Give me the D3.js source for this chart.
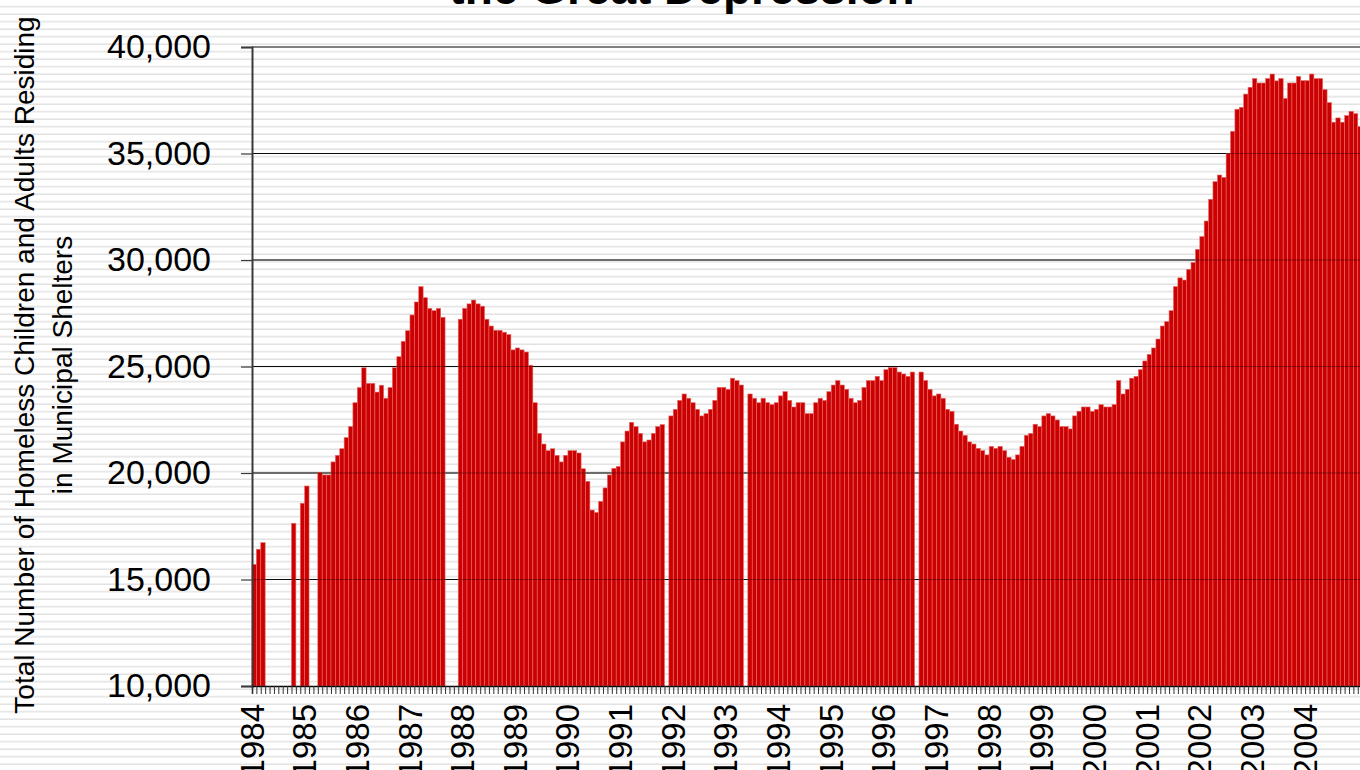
<!DOCTYPE html>
<html><head><meta charset="utf-8">
<script src="https://cdn.jsdelivr.net/npm/d3@7"></script>
<style>
html,body{margin:0;padding:0;background:#fff;overflow:hidden;}
svg{display:block;font-family:"Liberation Sans",Arial,sans-serif;}
</style>
</head><body>
<svg id="chart" width="1360" height="770"></svg>
<script>
// ---------------- data ----------------
const chartTitle = "the Great Depression";
const yTitleLines = ["Total Number of Homeless Children and Adults Residing", "in Municipal Shelters"];
const startYear = 1984;
const yearLabels = ["1984","1985","1986","1987","1988","1989","1990","1991","1992","1993","1994",
  "1995","1996","1997","1998","1999","2000","2001","2002","2003","2004"];
const yTicks = [10000, 15000, 20000, 25000, 30000, 35000, 40000];
// monthly totals starting January 1984 (null = month not reported)
const shelterCounts = [
  15710,16420,16730,null,null,null,null,null,null,17640,null,18580, // 1984
  19390,null,null,20030,19910,19910,20520,20830,21140,21660,22180,23300, // 1985
  24010,24940,24210,24210,23800,24120,23510,24010,24940,25460,26180,26680, // 1986
  27420,28030,28750,28230,27730,27620,27730,27310,null,null,null,27220, // 1987
  27730,27940,28120,27940,27830,27220,26900,26700,26700,26610,26500,25780, // 1988
  25870,25780,25680,25060,23300,21860,21360,21050,21140,20830,20520,20830, // 1989
  21050,21050,20940,20200,19610,18260,18150,18670,19300,19910,20220,20310, // 1990
  21460,21970,22380,22180,21860,21460,21550,21860,22180,22270,null,22680, // 1991
  22990,23410,23710,23510,23300,22990,22680,22790,22990,23410,24020,24020, // 1992
  23930,24450,24340,24130,null,23710,23510,23300,23510,23300,23210,23300, // 1993
  23620,23820,23410,23100,23300,23300,22790,22790,23300,23510,23410,23820, // 1994
  24130,24340,24130,23930,23510,23300,23410,24020,24340,24340,24540,24340, // 1995
  24850,24950,24950,24740,24650,24540,24740,null,24740,24340,23930,23620, // 1996
  23710,23510,22990,22900,22290,21970,21770,21460,21360,21160,21050,20850, // 1997
  21250,21160,21250,21050,20740,20640,20850,21250,21770,21860,22290,22180, // 1998
  22680,22790,22680,22490,22180,22180,22070,22680,22900,23100,23100,22900, // 1999
  22990,23210,23100,23100,23210,24340,23710,23930,24450,24540,24850,25260, // 2000
  25570,25870,26290,26900,27110,27620,28750,29160,29060,29560,29880,30500, // 2001
  31100,31830,32850,33680,33990,33880,35010,36040,37080,37170,37790,38110, // 2002
  38520,38310,38310,38520,38730,38410,38520,37590,38310,38310,38620,38420, // 2003
  38420,38730,38520,38520,38000,37390,36470,36670,36470,36780,36980,36870, // 2004
  36260                                                                     // 2005
];
const monthCount = 256;

// ---------------- layout ----------------
const W = 1360, H = 770;
const plotLeft = 252, plotTop = 47, plotBottom = 686;
const monthWidth = 4.388;

const svg = d3.select("#chart");
const defs = svg.append("defs");
const pat = defs.append("pattern").attr("id", "stripes")
  .attr("patternUnits", "userSpaceOnUse").attr("width", 10).attr("height", 7.5);
pat.append("rect").attr("width", 10).attr("height", 7.5).attr("fill", "#ffffff");
pat.append("rect").attr("y", 6).attr("width", 10).attr("height", 2.4).attr("fill", "#e2e2e2");
svg.append("rect").attr("width", W).attr("height", H).attr("fill", "url(#stripes)");

const idx = d3.range(monthCount);
const xBand = d3.scaleBand().domain(idx).range([plotLeft, plotLeft + monthCount * monthWidth]).padding(0);
const xLin = d3.scaleLinear().domain([0, monthCount]).range([plotLeft, plotLeft + monthCount * monthWidth]);
const y = d3.scaleLinear().domain([10000, 40000]).range([plotBottom, plotTop]);

// gridlines (behind bars)
svg.append("g").selectAll("line").data(yTicks.filter(d => d > 10000 && d < 40000)).join("line")
  .attr("x1", plotLeft).attr("x2", W).attr("y1", d => y(d)).attr("y2", d => y(d))
  .attr("stroke", "#111").attr("stroke-width", 1);

// bars
const barData = shelterCounts.map((v, i) => ({i, v})).filter(d => d.v != null);
svg.append("g").selectAll("rect").data(barData).join("rect")
  .attr("x", d => xBand(d.i))
  .attr("width", xBand.bandwidth())
  .attr("y", d => y(d.v))
  .attr("height", d => y(10000) - y(d.v))
  .attr("fill", "#cc0000")
  .attr("stroke", "#e66a6a")
  .attr("stroke-width", 0.6);

// gridlines faintly over bars
svg.append("g").selectAll("line").data(yTicks.filter(d => d > 10000 && d < 40000)).join("line")
  .attr("x1", plotLeft).attr("x2", W).attr("y1", d => y(d)).attr("y2", d => y(d))
  .attr("stroke", "#000").attr("stroke-opacity", 0.35).attr("stroke-width", 1);

// top border line
svg.append("line").attr("x1", plotLeft).attr("x2", W).attr("y1", y(40000)).attr("y2", y(40000))
  .attr("stroke", "#808080").attr("stroke-width", 2.2);

// y axis
const yAxis = svg.append("g").attr("transform", `translate(${plotLeft},0)`)
  .call(d3.axisLeft(y).tickValues(yTicks).tickSize(11).tickPadding(30).tickFormat(d3.format(",")));
yAxis.select(".domain").attr("stroke", "#3a3a3a").attr("stroke-width", 2);
yAxis.selectAll(".tick line").attr("stroke", "#3a3a3a").attr("stroke-width", 1.2);
yAxis.selectAll(".tick text").attr("font-size", 34).attr("fill", "#000")
  .attr("font-family", "'Liberation Sans', Arial, sans-serif");

// x axis (month ticks)
const xAxis = svg.append("g").attr("transform", `translate(0,${plotBottom})`)
  .call(d3.axisBottom(xLin).tickValues(d3.range(0, monthCount + 1)).tickSize(8).tickFormat(""));
xAxis.select(".domain").attr("stroke", "#000").attr("stroke-width", 1.5);
xAxis.selectAll(".tick line").attr("stroke", "#333").attr("stroke-width", 1);

// year labels
svg.append("g").selectAll("text").data(yearLabels).join("text")
  .attr("transform", (d, k) => `translate(${xLin(k * 12)},704) rotate(-90)`)
  .attr("text-anchor", "end").attr("dy", "0.35em")
  .attr("font-size", 33).attr("fill", "#000")
  .text(d => d);

// y title
svg.append("g").selectAll("text").data(yTitleLines).join("text")
  .attr("transform", (d, k) => `translate(${34 + k * 38},365) rotate(-90)`)
  .attr("text-anchor", "middle").attr("font-size", 28).attr("fill", "#000")
  .text(d => d);

// title (only last line visible)
svg.append("text").attr("x", 682).attr("y", 4).attr("text-anchor", "middle")
  .attr("font-size", 46).attr("font-weight", "bold").attr("fill", "#000")
  .text(chartTitle);
</script>
</body></html>
